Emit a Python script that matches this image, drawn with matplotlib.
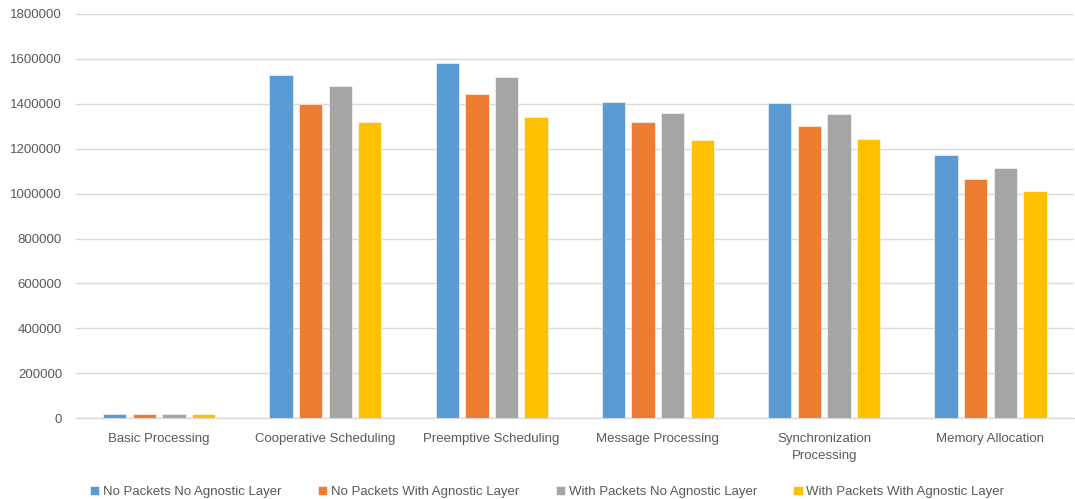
#!/usr/bin/env python3
"""Grouped bar chart: processing results with/without packets and agnostic layer"""

import numpy as np
from matplotlib import pyplot as plt

categories = ['Basic Processing', 'Cooperative Scheduling',
              'Preemptive Scheduling', 'Message Processing',
              'Synchronization\nProcessing', 'Memory Allocation']
series_names = ['No Packets No Agnostic Layer',
                'No Packets With Agnostic Layer',
                'With Packets No Agnostic Layer',
                'With Packets With Agnostic Layer']
no_pkt_no_layer = [18000, 1530000, 1582000, 1410000, 1404000, 1170000]
no_pkt_with_layer = [18000, 1398000, 1444000, 1318000, 1302000, 1066000]
with_pkt_no_layer = [18000, 1479000, 1518000, 1358000, 1353000, 1113000]
with_pkt_with_layer = [18000, 1318000, 1341000, 1239000, 1245000, 1010000]
y_ticks = [0, 200000, 400000, 600000, 800000, 1000000,
           1200000, 1400000, 1600000, 1800000]

colors = ['#5B9BD5', '#ED7D31', '#A5A5A5', '#FFC000']
text_color = '#595959'

plt.rcParams['font.family'] = ['Liberation Sans', 'DejaVu Sans']

fig = plt.figure(figsize=(10.75, 4.99), dpi=100)
ax = fig.add_axes([0.0707, 0.162, 0.928, 0.81])

x = np.arange(len(categories))
step = 0.178
width = 0.14
all_series = [no_pkt_no_layer, no_pkt_with_layer,
              with_pkt_no_layer, with_pkt_with_layer]
for i, values in enumerate(all_series):
    offset = (i - 1.5) * step
    ax.bar(x + offset, values, width, color=colors[i], label=series_names[i],
           edgecolor='white', linewidth=0.4, zorder=3)

ax.set_xlim(-0.5, len(categories) - 0.5)
ax.set_ylim(0, 1800000)
ax.set_yticks(y_ticks)
ax.set_yticklabels([str(v) for v in y_ticks])
ax.set_xticks(x)
ax.set_xticklabels(categories, linespacing=1.55)
ax.tick_params(axis='both', length=0, labelsize=9.5, colors=text_color)
ax.tick_params(axis='y', pad=10)
ax.tick_params(axis='x', pad=11)

ax.grid(axis='y', color='#D9D9D9', linewidth=1.0, zorder=0)
for side in ['top', 'right', 'left']:
    ax.spines[side].set_visible(False)
ax.spines['bottom'].set_color('#D9D9D9')
ax.spines['bottom'].set_linewidth(1.0)

fig.legend(loc='lower center', bbox_to_anchor=(0.509, -0.022), ncol=4,
           frameon=False, fontsize=9.5, labelcolor=text_color,
           handlelength=0.7, handleheight=0.7, handletextpad=0.3,
           columnspacing=2.75)

fig.savefig('out.png', dpi=100)
